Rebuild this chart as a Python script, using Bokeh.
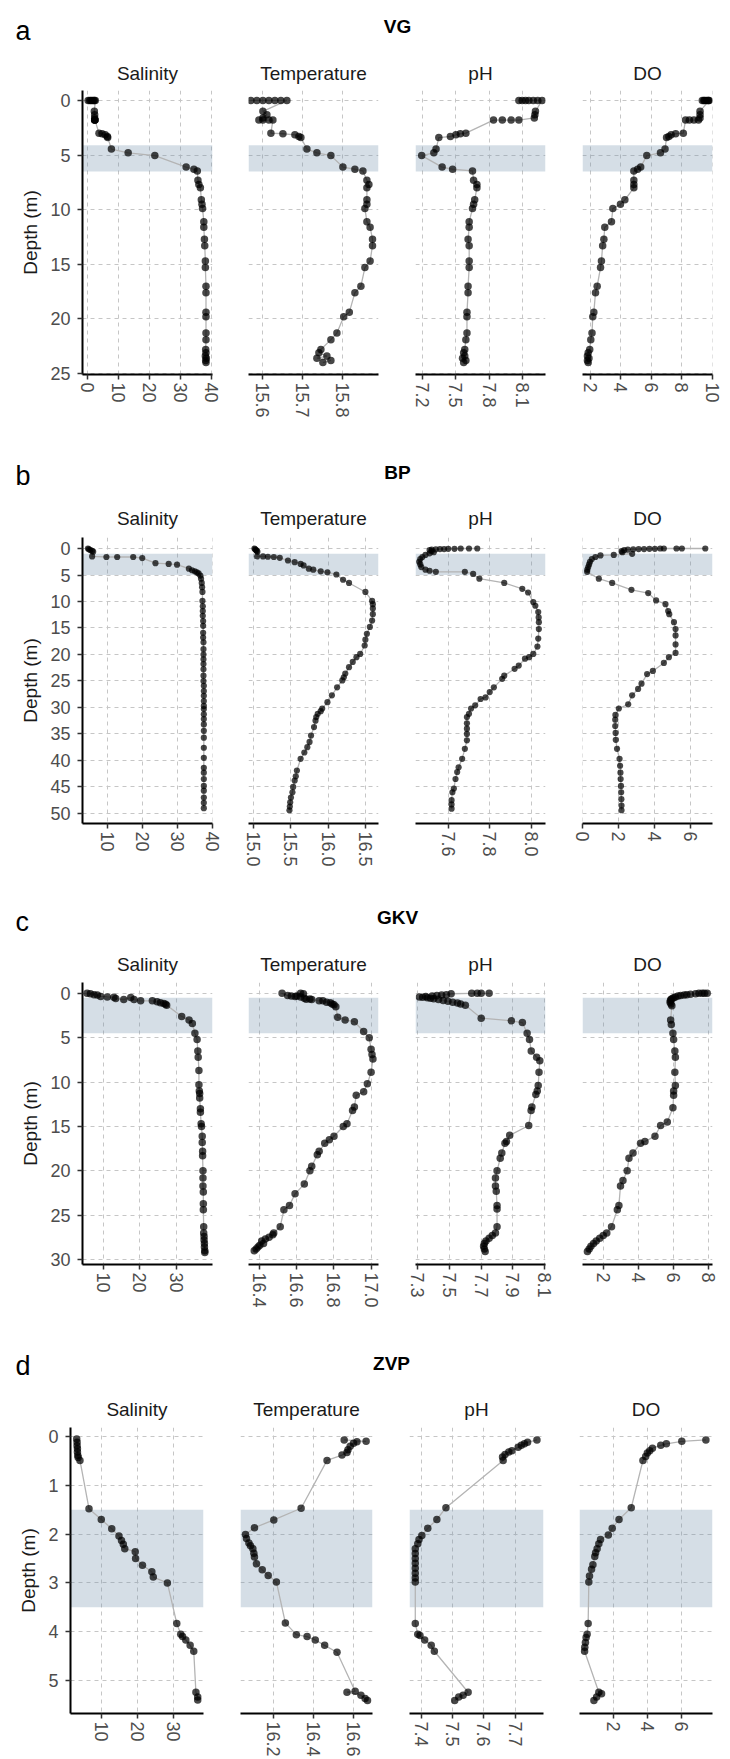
from bokeh.plotting import figure
from bokeh.layouts import column, row
from bokeh.models import Range1d, FixedTicker, PrintfTickFormatter, BoxAnnotation, Label
from bokeh.embed import file_html
from bokeh.resources import INLINE

FONT = "Liberation Sans"

VARIABLES = ["Salinity", "Temperature", "pH", "DO"]
LETTERS = ["a", "b", "c", "d"]
STATIONS = ["VG", "BP", "GKV", "ZVP"]

# shaded layer (depth, m)
BAND_TOP = [4.1, 1.0, 0.5, 1.5]
BAND_BOTTOM = [6.5, 5.0, 4.5, 3.5]

# ---------------- VG ----------------
VG_DEPTH = [0, 0, 0, 0, 0, 0, 0, 1.0, 1.3, 1.6, 1.8, 1.8, 1.8, 1.8,
            3.0, 3.05, 3.15, 3.3, 3.4, 4.45, 4.8, 5.05, 6.1, 6.3, 6.45,
            7.3, 7.7, 8.0, 9.1, 9.5, 9.9, 11.1, 11.6, 12.7, 13.3, 14.7, 15.3,
            17.0, 17.6, 19.4, 19.8, 21.3, 21.9, 22.8, 23.1, 23.4, 23.6, 23.8, 24.0]
VG_SAL = [0.3, 0.8, 1.2, 1.6, 2.0, 2.3, 2.6, 2.3, 2.4, 2.4, 2.4, 2.5, 2.4, 2.5,
          3.8, 4.8, 5.8, 6.5, 6.6, 7.8, 13.2, 21.8, 31.9, 34.4, 35.5,
          35.7, 36.0, 36.5, 36.8, 37.0, 37.2, 37.6, 37.6, 37.8, 37.9, 38.1, 38.1,
          38.3, 38.3, 38.3, 38.3, 38.3, 38.3, 38.2, 38.3, 38.1, 38.4, 38.2, 38.3]
VG_TEMP = [15.57, 15.585, 15.6, 15.615, 15.63, 15.645, 15.66, 15.60, 15.61, 15.60,
           15.59, 15.60, 15.615, 15.625, 15.62, 15.65, 15.68, 15.69, 15.695,
           15.71, 15.735, 15.77, 15.80, 15.83, 15.85, 15.86, 15.865, 15.86,
           15.86, 15.86, 15.855, 15.86, 15.868, 15.874, 15.874, 15.868, 15.855,
           15.845, 15.83, 15.816, 15.802, 15.785, 15.77, 15.745, 15.74, 15.76,
           15.735, 15.77, 15.75]
VG_PH = [8.07, 8.10, 8.13, 8.16, 8.20, 8.24, 8.28, 8.22, 8.215, 8.21,
         8.07, 8.0, 7.92, 7.84, 7.59, 7.54, 7.5, 7.45, 7.345, 7.32, 7.30, 7.19,
         7.375, 7.47, 7.65, 7.66, 7.69, 7.69, 7.67, 7.66, 7.65, 7.62, 7.62,
         7.61, 7.62, 7.62, 7.62, 7.61, 7.61, 7.60, 7.60, 7.60, 7.59,
         7.58, 7.57, 7.58, 7.56, 7.59, 7.57]
VG_DO = [9.35, 9.45, 9.5, 9.6, 9.7, 9.75, 9.8, 9.2, 9.2, 9.2, 9.1, 8.8, 8.5, 8.25,
         8.1, 7.6, 7.3, 7.15, 7.0, 6.9, 6.6, 5.7, 5.3, 5.1, 4.85, 4.85, 4.85, 4.85,
         4.26, 3.97, 3.47, 3.38, 2.94, 2.88, 2.8, 2.72, 2.66, 2.44, 2.33, 2.22,
         2.15, 2.1, 2.02, 1.95, 1.85, 1.8, 1.9, 1.8, 1.85]

# ---------------- BP ----------------
BP_SAL_D = [0.0, 0.15, 0.3, 0.45, 0.6, 1.5, 1.6, 1.6, 1.6, 1.8, 2.77, 2.9, 3.05, 3.8,
            4.1, 4.3, 4.5, 4.7, 5.1, 5.7, 6.5, 7.3, 8.2,
            9.9, 10.9, 11.8, 12.7, 13.7, 14.6, 15.9, 16.8, 17.7, 19.0,
            20.0, 20.9, 21.8, 22.8, 24.0, 25.0, 25.9, 26.9, 27.8, 28.8,
            29.7, 30.3, 31.3, 32.2, 33.2, 34.4, 35.7, 37.6, 39.5, 41.4,
            42.3, 43.5, 44.8, 45.7, 47.0, 48.0, 49.0]
BP_SAL = [4.3, 4.6, 5.0, 5.5, 5.8, 5.5, 9.6, 12.7, 17.3, 19.9, 23.7, 27.5, 29.9, 33.3,
          34.2, 35.0, 35.6, 36.1, 36.6, 36.8, 37.0, 37.1, 37.2,
          37.2, 37.3, 37.3, 37.3, 37.4, 37.4, 37.4, 37.4, 37.5, 37.5,
          37.5, 37.5, 37.5, 37.5, 37.5, 37.5, 37.6, 37.6, 37.6, 37.6,
          37.6, 37.6, 37.6, 37.6, 37.6, 37.6, 37.6, 37.6, 37.6, 37.6,
          37.6, 37.6, 37.6, 37.6, 37.6, 37.6, 37.6]
BP_TEMP_D = [0.0, 0.15, 0.3, 0.45, 0.6, 1.5, 1.5, 1.55, 1.6, 1.76, 2.26, 2.58, 2.9, 3.2, 3.8,
             4.0, 4.3, 4.5, 4.9, 5.9, 6.5, 8.2, 9.9, 10.5, 11.3, 12.4, 13.6, 14.8, 16.1, 17.2,
             18.3, 19.9, 20.5, 21.4, 22.4, 23.6, 24.3, 24.9, 26.2, 27.7, 29.0, 30.2, 30.7, 31.2, 31.8,
             32.5, 33.7, 35.3, 36.5, 37.5, 38.5, 39.7, 41.9, 43.0, 43.8, 45.0, 46.0, 47.0, 47.9, 48.7, 49.4]
BP_TEMP = [15.01, 15.02, 15.03, 15.04, 15.05, 15.045, 15.125, 15.19, 15.27, 15.35,
           15.46, 15.55, 15.63, 15.67, 15.74, 15.8, 15.9, 15.99, 16.11, 16.2,
           16.28, 16.5, 16.59, 16.6, 16.6, 16.6, 16.59, 16.56, 16.52, 16.5,
           16.49, 16.43, 16.38, 16.33, 16.28, 16.23, 16.21, 16.19, 16.12, 16.05,
           15.99, 15.92, 15.9, 15.86, 15.84, 15.83, 15.81, 15.77, 15.75, 15.72,
           15.68, 15.63, 15.58, 15.565, 15.55, 15.53, 15.52, 15.5, 15.49, 15.485, 15.48]
BP_PH_D = [0.0, 0.0, 0.0, 0.05, 0.05, 0.1, 0.1, 0.15, 0.2, 0.3, 0.5, 0.7, 0.9, 1.2, 1.6,
           2.0, 2.5, 3.0, 3.5, 4.0, 4.2, 4.4, 4.4, 4.8, 5.7, 6.5, 7.6, 8.3, 10.1, 10.8,
           12.0, 13.0, 13.9, 15.2, 17.0, 18.5, 19.9, 20.5, 20.8, 22.1, 22.7, 24.0, 24.6, 26.2, 27.1,
           28.1, 28.4, 29.6, 30.2, 31.2, 31.8, 33.0, 34.0, 35.0, 36.2, 37.8, 39.7, 41.3, 42.2, 43.5,
           45.3, 46.0, 47.5, 48.3, 49.1]
BP_PH = [7.74, 7.70, 7.66, 7.63, 7.60, 7.58, 7.56, 7.54, 7.52, 7.51, 7.52, 7.53, 7.51, 7.49, 7.475,
         7.465, 7.46, 7.465, 7.47, 7.49, 7.51, 7.54, 7.68, 7.72, 7.75, 7.87, 7.957, 7.985, 8.01, 8.02,
         8.034, 8.036, 8.037, 8.037, 8.034, 8.03, 8.01, 7.99, 7.97, 7.94, 7.92, 7.87, 7.86, 7.82, 7.80,
         7.78, 7.756, 7.73, 7.71, 7.70, 7.69, 7.69, 7.69, 7.69, 7.69, 7.68, 7.667, 7.65, 7.643, 7.635,
         7.627, 7.62, 7.616, 7.616, 7.616]
BP_DO_D = [0.0, 0.0, 0.0, 0.0, 0.0, 0.05, 0.05, 0.1, 0.1, 0.15, 0.2, 0.3, 0.5, 0.7, 1.0,
           1.2, 1.3, 1.6, 2.0, 2.5, 3.0, 3.5, 4.0, 4.4, 5.7, 6.5, 7.8, 8.4, 9.8, 10.5,
           11.8, 12.4, 13.9, 15.2, 16.4, 18.1, 19.7, 20.5, 21.6, 23.1, 23.7, 25.5, 26.5, 27.7, 29.4,
           30.2, 31.4, 32.3, 33.5, 34.8, 36.1, 37.8, 39.7, 41.0, 42.3, 43.5, 44.8, 46.0, 47.3, 48.5, 49.4]
BP_DO = [6.8, 5.5, 5.2, 4.5, 4.3, 4.0, 3.7, 3.4, 3.1, 2.8, 2.5, 2.3, 2.15, 2.2, 2.74,
         1.72, 0.98, 0.7, 0.5, 0.4, 0.35, 0.3, 0.25, 0.24, 0.89, 1.63, 2.7, 3.63, 4.07, 4.59,
         4.74, 4.8, 5.06, 5.15, 5.15, 5.15, 5.15, 4.78, 4.5, 3.89, 3.57, 3.26, 3.07, 2.74, 2.52,
         2.0, 1.81, 1.8, 1.8, 1.82, 1.83, 1.9, 2.04, 2.07, 2.09, 2.1, 2.12, 2.13, 2.14, 2.15, 2.15]

# ---------------- GKV ----------------
GKV_SAL_D = [0.0, 0.04, 0.15, 0.2, 0.35, 0.41, 0.45, 0.59, 0.7, 0.48, 0.7, 0.85, 0.85, 0.96,
             1.07, 1.15, 1.22, 1.33,
             2.6, 3.0, 3.4, 4.5, 5.2, 6.5, 7.2, 8.7, 10.3, 11.0, 11.3, 11.8, 13.0, 13.4, 14.7,
             15.0, 16.1, 16.8, 17.8, 18.3, 20.0, 20.8, 21.7, 22.4, 23.7, 24.4, 26.3, 27.0, 27.4,
             27.8, 28.2, 28.6, 29.0, 29.2]
GKV_SAL = [5.6, 6.5, 7.5, 8.4, 9.3, 11.1, 12.9, 13.4, 15.6, 17.5, 18.4, 20.2, 23.4, 24.7,
           25.6, 26.5, 27.0, 27.3,
           31.4, 33.4, 34.3, 35.0, 35.6, 35.8, 35.9, 36.1, 36.1, 36.2, 36.3, 36.3, 36.5, 36.5, 36.7,
           36.8, 37.0, 37.0, 37.1, 37.1, 37.2, 37.2, 37.2, 37.3, 37.3, 37.3, 37.4, 37.4, 37.5,
           37.5, 37.6, 37.6, 37.7, 37.7]
GKV_TEMP_D = [0.0, 0.25, 0.3, 0.35, 0.3, 0.0, 0.05, 0.4, 0.55, 0.67, 0.65, 0.7, 0.85, 0.85,
              1.0, 1.05, 1.2, 1.3, 1.5,
              2.7, 3.0, 3.2, 4.3, 5.0, 6.3, 6.9, 7.4, 8.9, 10.2, 11.1, 11.5, 12.8, 13.2, 14.7,
              15.0, 16.1, 16.5, 16.9, 17.8, 18.2, 19.5, 20.0, 21.5, 22.6, 23.9, 24.4, 26.3, 27.0,
              27.2, 27.5, 27.7, 27.9, 28.2, 28.4, 28.6, 28.8, 29.0]
GKV_TEMP = [16.52, 16.55, 16.57, 16.59, 16.60, 16.62, 16.635, 16.62, 16.64, 16.65, 16.67, 16.68,
            16.72, 16.74, 16.76, 16.78, 16.79, 16.8, 16.81,
            16.82, 16.86, 16.91, 16.96, 16.99, 17.0, 17.005, 17.01, 17.0, 16.98, 16.96, 16.92,
            16.91, 16.9, 16.87, 16.85, 16.8, 16.775, 16.75, 16.72, 16.71, 16.68, 16.67, 16.64,
            16.59, 16.56, 16.53, 16.51, 16.475, 16.47, 16.45, 16.43, 16.41, 16.42, 16.40,
            16.39, 16.38, 16.37]
GKV_PH_D = [0.0, 0.0, 0.0, 0.0, 0.05, 0.15, 0.2, 0.25, 0.3, 0.35, 0.4, 0.45, 0.5, 0.55, 0.6,
            0.7, 0.8, 0.9, 1.0, 1.1, 1.2, 1.35,
            2.8, 3.1, 3.3, 4.5, 5.2, 6.5, 7.2, 7.6, 8.9, 10.4, 11.0, 11.4, 12.8, 13.2, 14.9,
            16.0, 16.7, 16.9, 18.0, 18.6, 20.0, 20.8, 21.7, 22.3, 23.9, 24.3, 26.3, 27.0, 27.3,
            27.6, 27.9, 28.2, 28.5, 28.8, 29.1]
GKV_PH = [7.75, 7.70, 7.675, 7.64, 7.51, 7.48, 7.45, 7.42, 7.39, 7.35, 7.31, 7.33, 7.36, 7.38,
          7.40, 7.43, 7.46, 7.49, 7.52, 7.55, 7.57, 7.6,
          7.70, 7.89, 7.96, 7.99, 8.005, 8.016, 8.05, 8.07, 8.065, 8.06, 8.054, 8.045, 8.02,
          8.015, 8.0, 7.88, 7.86, 7.85, 7.83, 7.82, 7.8, 7.79, 7.79, 7.795, 7.8, 7.8, 7.8,
          7.79, 7.77, 7.75, 7.73, 7.72, 7.715, 7.72, 7.725]
GKV_DO_D = [0.0, 0.0, 0.0, 0.0, 0.05, 0.1, 0.15, 0.2, 0.25, 0.3, 0.4, 0.5, 0.6, 0.7, 0.8, 1.0,
            1.2, 1.4,
            3.0, 3.5, 4.5, 5.2, 6.5, 7.2, 8.9, 10.4, 11.0, 11.5, 12.9, 14.5, 14.9, 16.1, 16.7,
            16.9, 18.0, 18.6, 20.0, 21.1, 21.7, 23.9, 24.4, 26.3, 27.0, 27.3, 27.6, 27.9, 28.2,
            28.5, 28.8, 29.1]
GKV_DO = [7.91, 7.75, 7.62, 7.44, 7.25, 6.96, 6.75, 6.6, 6.4, 6.25, 6.1, 6.0, 5.9, 5.85, 5.82,
          5.8, 5.85, 5.9,
          5.83, 5.87, 5.96, 6.0, 6.07, 6.1, 6.07, 6.1, 6.0, 6.0, 5.96, 5.64, 5.26, 4.94, 4.37,
          4.12, 3.69, 3.46, 3.36, 3.12, 2.98, 2.89, 2.8, 2.47, 2.2, 2.0, 1.8, 1.6, 1.45,
          1.3, 1.2, 1.1]

# ---------------- ZVP ----------------
ZVP_SAL_D = [0.05, 0.12, 0.19, 0.25, 0.32, 0.39, 0.43, 0.49, 1.48, 1.7, 1.89, 2.04, 2.13,
             2.21, 2.3, 2.36, 2.5, 2.64, 2.77, 2.88, 3.0, 3.83, 4.05, 4.1, 4.17, 4.28, 4.4,
             5.24, 5.34, 5.4]
ZVP_SAL = [3.2, 3.3, 3.3, 3.4, 3.4, 3.5, 3.6, 4.1, 6.6, 10.0, 12.9, 14.9, 15.6, 16.1, 16.5,
           19.4, 19.5, 21.4, 24.0, 24.4, 28.3, 30.9, 32.0, 32.5, 33.4, 34.6, 35.6, 36.2, 36.7, 36.7]
ZVP_TEMP_D = [0.07, 0.1, 0.11, 0.14, 0.2, 0.27, 0.33, 0.38, 0.49, 1.47, 1.71, 1.87, 2.01,
              2.09, 2.18, 2.24, 2.3, 2.39, 2.47, 2.61, 2.73, 2.85, 2.98, 3.82, 4.06, 4.1,
              4.17, 4.28, 4.42, 5.22, 5.24, 5.3, 5.37, 5.41]
ZVP_TEMP = [16.553, 16.663, 16.617, 16.6, 16.583, 16.572, 16.567, 16.542, 16.467, 16.337,
            16.2, 16.103, 16.058, 16.063, 16.075, 16.083, 16.095, 16.1, 16.103, 16.113,
            16.142, 16.172, 16.213, 16.258, 16.313, 16.367, 16.408, 16.455, 16.517, 16.608,
            16.567, 16.637, 16.658, 16.67]
ZVP_PH_D = [0.07, 0.12, 0.15, 0.18, 0.22, 0.29, 0.32, 0.37, 0.42, 0.49, 1.46, 1.7, 1.88,
            2.03, 2.11, 2.2, 2.3, 2.4, 2.5, 2.6, 2.7, 2.8, 2.9, 2.98, 3.83, 4.05, 4.08, 4.17,
            4.28, 4.4, 5.24, 5.3, 5.34, 5.41]
ZVP_PH = [7.77, 7.74, 7.73, 7.72, 7.71, 7.69, 7.68, 7.668, 7.66, 7.662, 7.479, 7.45, 7.421,
          7.402, 7.393, 7.389, 7.381, 7.381, 7.381, 7.381, 7.381, 7.381, 7.381, 7.381,
          7.381, 7.389, 7.396, 7.411, 7.432, 7.442, 7.55, 7.534, 7.52, 7.507]
ZVP_DO_D = [0.07, 0.1, 0.15, 0.18, 0.24, 0.29, 0.34, 0.41, 0.49, 1.46, 1.7, 1.88, 2.02, 2.11,
            2.2, 2.3, 2.38, 2.46, 2.63, 2.72, 2.86, 2.98, 3.83, 4.05, 4.12, 4.22, 4.32, 4.4,
            5.24, 5.27, 5.34, 5.41]
ZVP_DO = [7.42, 6.0, 5.09, 4.76, 4.27, 4.11, 3.97, 3.87, 3.71, 3.02, 2.3, 1.9, 1.67, 1.21,
          1.11, 1.01, 0.92, 0.87, 0.76, 0.68, 0.56, 0.52, 0.48, 0.42, 0.36, 0.32, 0.28, 0.27,
          1.11, 1.27, 0.98, 0.82]

# ---------------- axes ----------------
X_TICKS = [
    [[0, 10, 20, 30, 40], [15.6, 15.7, 15.8], [7.2, 7.5, 7.8, 8.1], [2, 4, 6, 8, 10]],
    [[10, 20, 30, 40], [15.0, 15.5, 16.0, 16.5], [7.6, 7.8, 8.0], [0, 2, 4, 6]],
    [[10, 20, 30], [16.4, 16.6, 16.8, 17.0], [7.3, 7.5, 7.7, 7.9, 8.1], [2, 4, 6, 8]],
    [[10, 20, 30], [16.2, 16.4, 16.6], [7.4, 7.5, 7.6, 7.7], [2, 4, 6]],
]
X_DECIMALS = [
    [False, True, True, False],
    [False, True, True, False],
    [False, True, True, False],
    [False, True, True, False],
]
X_RANGES = [
    [(-1.52, 40.4), (15.564, 15.889), (7.134, 8.311), (1.475, 10.02)],
    [(2.73, 40.09), (14.93, 16.676), (7.442, 8.069), (-0.017, 7.2)],
    [(4.35, 39.8), (16.339, 17.04), (7.285, 8.106), (0.82, 8.21)],
    [(1.48, 38.3), (16.033, 16.695), (7.3625, 7.791), (-0.03, 7.81)],
]
DEPTH_TICKS = [
    [0, 5, 10, 15, 20, 25],
    [0, 5, 10, 15, 20, 25, 30, 35, 40, 45, 50],
    [0, 5, 10, 15, 20, 25, 30],
    [0, 1, 2, 3, 4, 5],
]
DEPTH_RANGES = [(-0.91, 25.09), (-2.08, 51.9), (-1.22, 30.56), (-0.184, 5.676)]

DATA = [
    [(VG_DEPTH, VG_SAL), (VG_DEPTH, VG_TEMP), (VG_DEPTH, VG_PH), (VG_DEPTH, VG_DO)],
    [(BP_SAL_D, BP_SAL), (BP_TEMP_D, BP_TEMP), (BP_PH_D, BP_PH), (BP_DO_D, BP_DO)],
    [(GKV_SAL_D, GKV_SAL), (GKV_TEMP_D, GKV_TEMP), (GKV_PH_D, GKV_PH), (GKV_DO_D, GKV_DO)],
    [(ZVP_SAL_D, ZVP_SAL), (ZVP_TEMP_D, ZVP_TEMP), (ZVP_PH_D, ZVP_PH), (ZVP_DO_D, ZVP_DO)],
]

# ---------------- layout (pixels) ----------------
W = 730
FRAME_H = 286
TOP = 4
HEADER_H = [86, 113, 108, 113]
BOTTOM_B = [44, 47, 42, 46]
LEFTS = [[82, 18, 19, 19], [82, 18, 19, 19], [82, 18, 19, 19], [70, 19, 19, 18]]
FRAMES = [[130, 130, 130, 130], [130, 130, 130, 130], [130, 130, 130, 130], [133, 132, 134, 133]]
RIGHT = 18
LETTER_BASE = [30, 55, 51.7, 55]
NAME_BASE = [26, 51.7, 47.3, 52.7]
TITLE_BASE = [72.7, 98.3, 94, 99.3]
POINT_SIZE = [7.5, 6.2, 7.5, 7.5]

GRID_COLOR = "#c6c6c6"
BAND_COLOR = "#7391ac"
LINE_COLOR = "#b4b4b4"


def make_header(r):
    h = HEADER_H[r]
    p = figure(width=W, height=h, x_range=Range1d(0, W), y_range=Range1d(h, 0),
               title=None, toolbar_location=None, output_backend="svg", min_border=0,
               x_axis_location=None, y_axis_location=None, outline_line_color=None)
    p.xgrid.visible = False
    p.ygrid.visible = False
    p.add_layout(Label(x=15, y=LETTER_BASE[r], text=LETTERS[r], text_font=FONT,
                       text_font_size="27px", text_color="#000000",
                       text_align="left", text_baseline="alphabetic"))
    lefts, frames = LEFTS[r], FRAMES[r]
    x0 = 0
    centers = []
    for i in range(4):
        fl = x0 + lefts[i]
        centers.append(fl + frames[i] / 2)
        x0 = fl + frames[i] + RIGHT
    plot_left = lefts[0]
    plot_right = W - RIGHT
    p.add_layout(Label(x=(plot_left + plot_right) / 2, y=NAME_BASE[r], text=STATIONS[r],
                       text_font=FONT, text_font_size="19px", text_font_style="bold",
                       text_color="#000000", text_align="center", text_baseline="alphabetic"))
    for i in range(4):
        p.add_layout(Label(x=centers[i], y=TITLE_BASE[r], text=VARIABLES[i], text_font=FONT,
                           text_font_size="19px", text_color="#1a1a1a",
                           text_align="center", text_baseline="alphabetic"))
    return p


def make_panel(r, i):
    depth, vals = DATA[r][i]
    first = (i == 0)
    left, fw = LEFTS[r][i], FRAMES[r][i]
    ytop, ybot = DEPTH_RANGES[r]
    p = figure(width=left + fw + RIGHT, height=TOP + FRAME_H + BOTTOM_B[r],
               x_range=Range1d(*X_RANGES[r][i]), y_range=Range1d(ybot, ytop),
               title=None, toolbar_location=None, output_backend="svg",
               min_border_left=left, min_border_right=RIGHT, min_border_top=TOP,
               min_border_bottom=BOTTOM_B[r],
               y_axis_location="left" if first else None,
               outline_line_color=None, background_fill_color="white",
               border_fill_color="white")
    p.xgrid.ticker = FixedTicker(ticks=X_TICKS[r][i])
    p.ygrid.ticker = FixedTicker(ticks=DEPTH_TICKS[r])
    for g in list(p.xgrid) + list(p.ygrid):
        g.grid_line_color = GRID_COLOR
        g.grid_line_dash = "4 4"
        g.grid_line_width = 1

    p.add_layout(BoxAnnotation(top=BAND_TOP[r], bottom=BAND_BOTTOM[r], fill_color=BAND_COLOR,
                               fill_alpha=0.3, line_color=None, level="underlay"))

    p.line(vals, depth, line_color=LINE_COLOR, line_width=1.3)
    p.scatter(vals, depth, size=POINT_SIZE[r], fill_color="#000000", fill_alpha=0.72,
              line_color=None)

    ax = p.xaxis[0]
    ax.ticker = FixedTicker(ticks=X_TICKS[r][i])
    if X_DECIMALS[r][i]:
        ax.formatter = PrintfTickFormatter(format="%.1f")
    ax.axis_line_color = "#000000"
    ax.axis_line_width = 2
    ax.major_tick_line_color = "#333333"
    ax.major_tick_line_width = 1.5
    ax.major_tick_out = 5
    ax.major_tick_in = 0
    ax.minor_tick_out = 0
    ax.minor_tick_in = 0
    ax.major_label_orientation = "vertical"
    ax.major_label_standoff = 3
    ax.major_label_text_font = FONT
    ax.major_label_text_font_size = "18px"
    ax.major_label_text_color = "#4d4d4d"

    if first:
        ya = p.yaxis[0]
        ya.ticker = FixedTicker(ticks=DEPTH_TICKS[r])
        ya.axis_line_color = "#000000"
        ya.axis_line_width = 2
        ya.major_tick_line_color = "#333333"
        ya.major_tick_line_width = 1.5
        ya.major_tick_out = 5
        ya.major_tick_in = 0
        ya.minor_tick_out = 0
        ya.minor_tick_in = 0
        ya.major_label_standoff = 7
        ya.major_label_text_font = FONT
        ya.major_label_text_font_size = "18px"
        ya.major_label_text_color = "#4d4d4d"
        ya.axis_label = "Depth (m)"
        ya.axis_label_text_font = FONT
        ya.axis_label_text_font_size = "19px"
        ya.axis_label_text_font_style = "normal"
        ya.axis_label_text_color = "#1a1a1a"
        ya.axis_label_standoff = 6
    return p


blocks = []
for r in range(4):
    blocks.append(make_header(r))
    blocks.append(row(*[make_panel(r, i) for i in range(4)], spacing=0))

layout = column(*blocks, spacing=0)

html = file_html(layout, INLINE, title="Depth profiles")
with open("out.html", "w") as f:
    f.write(html)
